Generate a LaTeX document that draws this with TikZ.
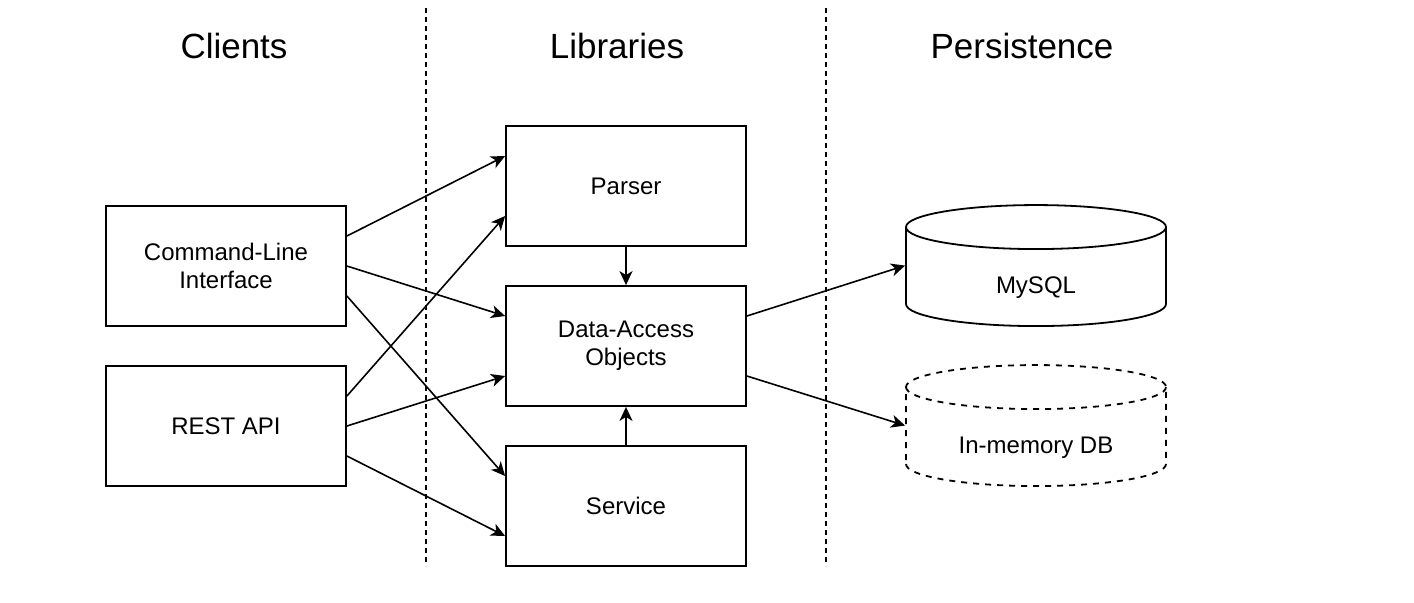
\documentclass[tikz,border=0pt]{standalone}
\usepackage{fontspec}
\setmainfont{Liberation Sans}
\usetikzlibrary{shapes.geometric,arrows.meta,calc}
\tikzset{>={Stealth[length=7pt,width=6.5pt,inset=2pt]}}
\tikzset{box/.style={draw, line width=0.9pt, minimum width=120pt, minimum height=60pt, align=center, inner sep=0, font=\fontsize{12}{14}\selectfont}}
\tikzset{db/.style={draw, line width=0.9pt, cylinder, shape border rotate=90, aspect=0.44, minimum width=130pt, minimum height=60.5pt, inner sep=0, font=\fontsize{12}{14}\selectfont}}
\tikzset{link/.style={->, line width=0.8pt}}
\tikzset{sep/.style={line width=0.7pt, dash pattern=on 2.5pt off 2pt}}
\newcommand{\drawbox}{\node[box]}
\newcommand{\drawdb}{\node[db]}
\newcommand{\drawtitle}{\node[font=\fontsize{17.5}{21}\selectfont]}
\newcommand{\dblabel}[1]{\raisebox{-8pt}[0pt][0pt]{\makebox[50pt]{#1}}}

\begin{document}
\begin{tikzpicture}[x=0.5pt,y=-0.5pt]
	\useasboundingbox (0,0) rectangle (1414,602);
	
	\drawtitle (tcli) at (234,46) {Clients};
	\drawtitle (tlib) at (617,46) {Libraries};
	\drawtitle (tper) at (1022,46) {Persistence};
	
	\draw[sep] (426,8) -- (426,566);
	\draw[sep] (826,8) -- (826,566);
	
	\drawbox (cli) at (226,266) {Command-Line\\Interface};
	\drawbox (rest) at (226,426) {REST API};
	\drawbox (parser) at (626,186) {Parser};
	\drawbox (dao) at (626,346) {Data-Access\\Objects};
	\drawbox (svc) at (626,506) {Service};
	\drawdb (mysql) at (1036,277) {\dblabel{MySQL}};
	\drawdb[dashed] (mem) at (1036,437) {\dblabel{In-memory DB}};
	
	\draw[link] ([yshift=15pt]cli.east) to ([yshift=15pt]parser.west);
	\draw[link] (cli.east) to ([yshift=15pt]dao.west);
	\draw[link] ([yshift=-15pt]cli.east) to ([yshift=15pt]svc.west);
	\draw[link] ([yshift=15pt]rest.east) to ([yshift=-15pt]parser.west);
	\draw[link] (rest.east) to ([yshift=-15pt]dao.west);
	\draw[link] ([yshift=-15pt]rest.east) to ([yshift=-15pt]svc.west);
	\draw[link] (parser.south) to (dao.north);
	\draw[link] (svc.north) to (dao.south);
	\draw[link] ([yshift=15pt]dao.east) to (mysql.west |- mysql.shape center);
	\draw[link] ([yshift=-15pt]dao.east) to (mem.west |- mem.shape center);
	
\end{tikzpicture}
\end{document}
